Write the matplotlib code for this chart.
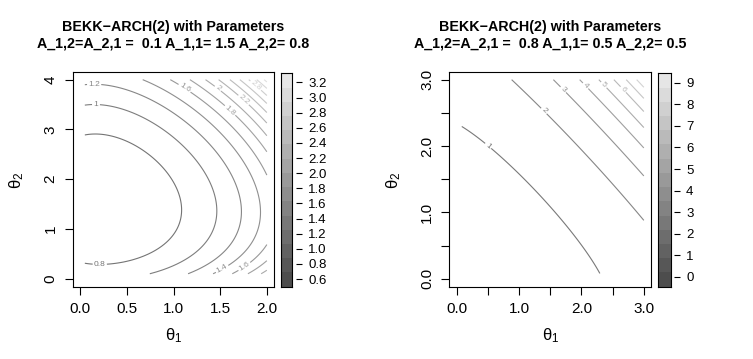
import math
import numpy as np
import matplotlib
matplotlib.use("Agg")
import matplotlib.pyplot as plt
from matplotlib.colors import ListedColormap

plt.rcParams['font.family'] = ['Liberation Sans', 'DejaVu Sans']

# BEKK-ARCH(2) parameters (as printed in the titles)
a12_left, a11_left, a22_left = 0.1, 1.5, 0.8
a12_right, a11_right, a22_right = 0.8, 0.5, 0.5

# theta grids
theta1_left = np.linspace(0.05, 2.0, 100)
theta2_left = np.linspace(0.1, 4.0, 100)
theta1_right = np.linspace(0.08, 3.0, 100)
theta2_right = np.linspace(0.08, 3.0, 100)

levels_left = [0.8, 1.0, 1.2, 1.4, 1.6, 1.8, 2.0, 2.2, 2.4, 2.6, 2.8, 3.0, 3.2]
levels_right = [1, 2, 3, 4, 5, 6, 7, 8, 9]

key_range_left = (0.50, 3.32)
key_range_right = (-0.46, 9.44)
key_ticks_left = [0.6, 0.8, 1.0, 1.2, 1.4, 1.6, 1.8, 2.0, 2.2, 2.4, 2.6, 2.8, 3.0, 3.2]
key_ticks_right = [0, 1, 2, 3, 4, 5, 6, 7, 8, 9]

# where R put the contour labels
label_pos_left = [(0.15, 3.93), (0.17, 3.53), (0.21, 0.29), (1.13, 3.86), (1.5, 3.88),
                  (1.77, 3.63), (1.63, 3.43), (1.89, 3.9), (1.52, 0.2), (1.74, 0.3)]
label_pos_right = [(0.52, 2.02), (1.41, 2.54), (1.72, 2.86), (2.08, 2.92), (2.38, 2.94), (2.68, 2.86)]


def moment_surface(a11, a12, a22, t1, t2, n_angle=8000):
    # E|Y1|^t1 |Y2|^t2 with Y = A Z, Z ~ N(0, I), in polar coordinates
    A = np.array([[a11, a12], [a12, a22]])
    phi = (np.arange(n_angle) + 0.5) * 2 * np.pi / n_angle
    w = A @ np.vstack([np.cos(phi), np.sin(phi)])
    l1 = np.log(np.abs(w[0]))
    l2 = np.log(np.abs(w[1]))
    z = np.empty((len(t2), len(t1)))
    for i, b in enumerate(t2):
        ang = np.exp(t1[:, None] * l1[None, :] + b * l2[None, :]).mean(axis=1)
        c = (t1 + b) / 2
        rad = 2 ** c * np.array([math.gamma(1 + v) for v in c])
        z[i] = rad * ang
    return z


z_left = moment_surface(a11_left, a12_left, a22_left, theta1_left, theta2_left)
z_right = moment_surface(a11_right, a12_right, a22_right, theta1_right, theta2_right)

W, H = 753, 359
fig = plt.figure(figsize=(W / 100, H / 100), dpi=100)


def px_axes(x0, y0, x1, y1):
    return fig.add_axes([x0 / W, 1 - y1 / H, (x1 - x0) / W, (y1 - y0) / H])


n_bands = 15
gray_map = ListedColormap([str(g) for g in np.linspace(0.3, 0.9, n_bands)])


def line_gray(v, rng):
    return str(0.4 + 0.5 * (v - rng[0]) / (rng[1] - rng[0]))


def panel(box, bar, tick_x, t1, t2, z, levels, key_range, key_ticks, key_fmt,
          lim_x, lim_y, xt, xtl, yt, ytl, label_pos, title2):
    ax = px_axes(*box)
    cs = ax.contour(t1, t2, z, levels=levels,
                    colors=[line_gray(v, key_range) for v in levels], linewidths=0.8)
    ax.clabel(cs, manual=label_pos, fmt='%g', fontsize=6, inline=True, inline_spacing=2)
    ax.set_xlim(*lim_x)
    ax.set_ylim(*lim_y)
    ax.set_xticks(xt, xtl)
    ax.set_yticks(yt, ytl)
    ax.tick_params(direction='out', length=6, width=0.8, labelsize=11, pad=5)
    ax.tick_params(axis='y', labelrotation=90)
    for lab in ax.get_yticklabels():
        lab.set_va('center')
    for s in ax.spines.values():
        s.set_linewidth(0.8)

    # colour key
    cax = px_axes(*bar)
    edges = np.linspace(key_range[0], key_range[1], n_bands + 1)
    cax.pcolormesh([0, 1], edges, np.arange(n_bands).reshape(-1, 1), cmap=gray_map,
                   vmin=-0.5, vmax=n_bands - 0.5)
    cax.set_xlim(0, 1)
    cax.set_ylim(*key_range)
    cax.set_xticks([])
    cax.set_yticks([])
    for s in cax.spines.values():
        s.set_linewidth(0.8)

    tax = px_axes(tick_x, bar[1], tick_x + 0.5, bar[3])
    tax.set_ylim(*key_range)
    tax.set_xticks([])
    tax.yaxis.tick_right()
    tax.set_yticks(key_ticks, [key_fmt % v for v in key_ticks])
    tax.tick_params(axis='y', direction='out', length=4.5, width=0.8, labelsize=9.5, pad=4.3)
    for s in tax.spines.values():
        s.set_visible(False)
    tax.patch.set_visible(False)

    cx = (box[0] + box[2]) / 2
    fig.text(cx / W, 1 - 31 / H, 'BEKK\u2212ARCH(2) with Parameters',
             ha='center', va='baseline', fontsize=10.3, fontweight='bold')
    fig.text(cx / W, 1 - 47.5 / H, title2,
             ha='center', va='baseline', fontsize=10.3, fontweight='bold')
    fig.text(cx / W, 1 - 340 / H, r'$\mathregular{\theta_1}$',
             ha='center', va='baseline', fontsize=12)
    fig.text((box[0] - 56) / W, 1 - 180 / H, r'$\mathregular{\theta_2}$',
             ha='center', va='center', rotation=90, fontsize=12)


panel((72.7, 71.7, 274.3, 286.7), (281.0, 73.3, 292.0, 286.7), 295.7,
      theta1_left, theta2_left, z_left, levels_left, key_range_left, key_ticks_left, '%.1f',
      (-0.08, 2.08), (-0.16, 4.16),
      [0, 0.5, 1, 1.5, 2], ['0.0', '0.5', '1.0', '1.5', '2.0'],
      [0, 1, 2, 3, 4], ['0', '1', '2', '3', '4'],
      label_pos_left, 'A_1,2=A_2,1 =  0.1 A_1,1= 1.5 A_2,2= 0.8')

panel((449.3, 71.7, 651.3, 286.7), (658.3, 73.3, 670.7, 286.7), 673.3,
      theta1_right, theta2_right, z_right, levels_right, key_range_right, key_ticks_right, '%d',
      (-0.12, 3.12), (-0.12, 3.12),
      [0, 0.5, 1, 1.5, 2, 2.5, 3], ['0.0', '', '1.0', '', '2.0', '', '3.0'],
      [0, 0.5, 1, 1.5, 2, 2.5, 3], ['0.0', '', '1.0', '', '2.0', '', '3.0'],
      label_pos_right, 'A_1,2=A_2,1 =  0.8 A_1,1= 0.5 A_2,2= 0.5')

fig.savefig('out.png', dpi=100)
